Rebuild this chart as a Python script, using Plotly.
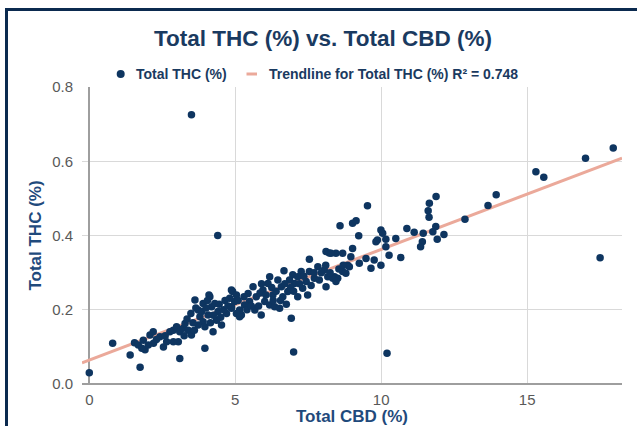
import numpy as np
import plotly.graph_objects as go

# Total CBD (%) values (x)
cbd = [0.0, 0.8, 3.5, 4.4, 7.0, 10.2, 17.5, 17.95, 17.0, 15.3, 15.57, 13.94, 13.66, 12.87, 12.15,
       11.88, 11.65, 11.61, 11.64, 11.87, 11.77, 11.44, 11.41, 11.35, 11.92,
       9.53, 8.59, 9.02, 9.14, 9.23, 9.99, 10.05, 9.87, 10.16, 10.5, 10.88, 11.13, 10.16, 10.27, 10.67,
       9.99, 9.65, 9.76, 9.48, 9.25, 9.02, 8.96, 8.68, 8.45, 8.22, 8.85, 8.68, 8.4, 9.82,
       7.54, 8.11, 8.28, 6.67, 6.92, 8.11, 8.51, 8.79, 8.91,
       4.91, 4.98, 5.15, 5.21, 5.49, 5.44, 5.61, 5.72, 5.67, 5.89, 5.95, 6.12, 6.18, 6.29, 6.18, 6.35,
       6.52, 6.58, 6.46, 6.63, 6.8, 6.97, 7.03, 7.14, 7.31, 7.43, 7.48, 7.26, 7.54, 7.71, 7.88, 7.83,
       8.05, 8.17, 8.34, 8.45, 7.14, 6.86, 6.01, 5.32, 5.04,
       1.4, 1.74, 1.55, 1.68, 1.85, 1.91, 2.08, 2.19, 2.02, 1.8, 2.42, 2.54, 2.65, 3.1, 2.88, 2.99,
       3.1, 3.22, 3.28, 3.39, 3.5, 3.05, 3.62, 3.48, 3.73, 3.79, 3.9, 3.73, 3.96, 4.13, 4.19, 4.07,
       4.24, 4.36, 4.41, 4.53, 4.3, 4.7, 4.81, 4.87, 4.87, 3.9, 3.96, 2.88, 2.76,
       5.04, 5.15, 4.87, 4.1,
       3.35, 3.55, 3.65, 3.85, 4.0, 4.15, 4.25, 4.45, 4.6, 4.65, 4.75, 4.5, 4.05, 3.6, 3.25,
       5.1, 5.3, 5.4, 5.55, 5.8, 5.85, 6.05, 6.25, 6.4, 6.55, 6.7, 6.75, 6.9, 7.0, 7.2, 7.35,
       7.6, 7.7, 7.95, 8.1, 8.25, 8.55, 8.7, 5.9, 6.3,
       2.3, 2.6, 2.2]

# Total THC (%) values (y)
thc = [0.03, 0.11, 0.725, 0.40, 0.086, 0.083, 0.34, 0.636, 0.608, 0.572, 0.557, 0.51, 0.481, 0.444, 0.403,
       0.505, 0.487, 0.467, 0.449, 0.424, 0.41, 0.406, 0.383, 0.37, 0.39,
       0.48, 0.426, 0.433, 0.44, 0.399, 0.415, 0.406, 0.388, 0.39, 0.392, 0.419, 0.409, 0.37, 0.347, 0.341,
       0.32, 0.312, 0.334, 0.338, 0.325, 0.365, 0.343, 0.352, 0.352, 0.353, 0.32, 0.303, 0.289, 0.383,
       0.336, 0.357, 0.352, 0.305, 0.177, 0.262, 0.285, 0.298, 0.316,
       0.249, 0.222, 0.199, 0.186, 0.222, 0.244, 0.262, 0.235, 0.199, 0.186, 0.253, 0.271, 0.289, 0.24, 0.213, 0.208,
       0.204, 0.262, 0.28, 0.235, 0.249, 0.294, 0.271, 0.235, 0.258, 0.276, 0.24, 0.303, 0.303, 0.285, 0.28, 0.316,
       0.307, 0.289, 0.285, 0.276, 0.289, 0.28, 0.222, 0.213, 0.24,
       0.078, 0.045, 0.111, 0.105, 0.118, 0.092, 0.132, 0.141, 0.105, 0.096, 0.127, 0.1, 0.114, 0.069, 0.145, 0.154,
       0.141, 0.15, 0.163, 0.145, 0.132, 0.114, 0.226, 0.19, 0.199, 0.181, 0.168, 0.159, 0.096, 0.235, 0.208, 0.186,
       0.141, 0.172, 0.195, 0.159, 0.217, 0.19, 0.231, 0.253, 0.208, 0.217, 0.154, 0.114, 0.141,
       0.19, 0.181, 0.204, 0.24,
       0.175, 0.165, 0.205, 0.195, 0.205, 0.165, 0.185, 0.215, 0.2, 0.225, 0.21, 0.18, 0.225, 0.145, 0.13,
       0.225, 0.235, 0.2, 0.21, 0.21, 0.245, 0.24, 0.26, 0.25, 0.225, 0.27, 0.215, 0.26, 0.25, 0.27, 0.29,
       0.265, 0.3, 0.3, 0.32, 0.3, 0.31, 0.32, 0.27, 0.225,
       0.12, 0.13, 0.11]

x_ticks = [0, 5, 10, 15]
y_ticks = [0.0, 0.2, 0.4, 0.6, 0.8]
y_tick_text = ["0.0", "0.2", "0.4", "0.6", "0.8"]

title_text = "Total THC (%) vs. Total CBD (%)"
series_name = "Total THC (%)"
trend_name = "Trendline for Total THC (%) R² = 0.748"

NAVY = "#0e3560"
TREND = "#eba99a"
TXT_NAVY = "#1a3a60"
FONT = "Liberation Sans, Arial, sans-serif"

slope, intercept = np.polyfit(cbd, thc, 1)
x_range = [-0.25, 18.25]
trend_x = np.array(x_range)
trend_y = slope * trend_x + intercept

W, H = 637, 426
ml, mr, mt, mb = 82, 15, 87, 42
pw, ph = W - ml - mr, H - mt - mb


def px(p):
    return (p - ml) / pw


def py(p):
    return (H - mb - p) / ph


fig = go.Figure()
fig.add_trace(go.Scatter(
    x=trend_x, y=trend_y, mode="lines", name=trend_name,
    line=dict(color=TREND, width=3), showlegend=False, hoverinfo="skip"))
fig.add_trace(go.Scatter(
    x=cbd, y=thc, mode="markers", name=series_name, showlegend=False,
    marker=dict(color=NAVY, size=7.5, line=dict(width=0))))

# outer frame
fig.add_shape(type="rect", xref="paper", yref="paper",
              x0=px(6.5), x1=px(670), y0=py(470), y1=py(9.5),
              line=dict(color="#0b2a4f", width=3), fillcolor="rgba(0,0,0,0)", layer="above")

# legend (drawn)
leg_y = 74
fig.add_shape(type="circle", xref="paper", yref="paper",
              x0=px(116.7), x1=px(124.7), y0=py(78), y1=py(70),
              line=dict(width=0), fillcolor=NAVY)
fig.add_shape(type="line", xref="paper", yref="paper",
              x0=px(246.5), x1=px(257), y0=py(leg_y), y1=py(leg_y),
              line=dict(color=TREND, width=3))
fig.add_annotation(x=px(134), y=py(leg_y), xref="paper", yref="paper", xanchor="left", yanchor="middle",
                   text="<b>" + series_name + "</b>", showarrow=False,
                   font=dict(size=14, color=TXT_NAVY, family=FONT))
fig.add_annotation(x=px(267), y=py(leg_y), xref="paper", yref="paper", xanchor="left", yanchor="middle",
                   text="<b>" + trend_name + "</b>", showarrow=False,
                   font=dict(size=14, color=TXT_NAVY, family=FONT))

fig.update_layout(
    width=W, height=H,
    margin=dict(l=ml, r=mr, t=mt, b=mb, autoexpand=False),
    paper_bgcolor="white", plot_bgcolor="white",
    font=dict(family=FONT, color="#595959"),
    title=dict(text="<b>" + title_text + "</b>", x=323 / W, xref="container", xanchor="center",
               y=1 - 38 / H, yanchor="middle",
               font=dict(size=22.5, color=TXT_NAVY, family=FONT)),
    showlegend=False,
)
fig.update_xaxes(range=x_range, tickvals=x_ticks, showgrid=True, gridcolor="#d9d9d9", gridwidth=1,
                 zeroline=True, zerolinecolor="#9e9e9e", zerolinewidth=1.5,
                 showline=False, ticks="outside", ticklen=2, tickcolor="rgba(0,0,0,0)",
                 tickfont=dict(size=15, color="#595959"),
                 title=dict(text="<b>Total CBD (%)</b>", standoff=9,
                            font=dict(size=17, color="#1f4a7c")))
fig.update_yaxes(range=[0, 0.8], tickvals=y_ticks, ticktext=y_tick_text, showgrid=True,
                 gridcolor="#d9d9d9", gridwidth=1, zeroline=True, zerolinecolor="#9e9e9e",
                 zerolinewidth=1.5, showline=False, ticks="outside", ticklen=5,
                 tickcolor="rgba(0,0,0,0)", tickfont=dict(size=15, color="#595959"),
                 title=dict(text="<b>Total THC (%)</b>", standoff=6,
                            font=dict(size=17, color="#1f4a7c")))

fig.write_html("out.html", config={"displayModeBar": False},
               post_script="document.body.style.margin='0';")
